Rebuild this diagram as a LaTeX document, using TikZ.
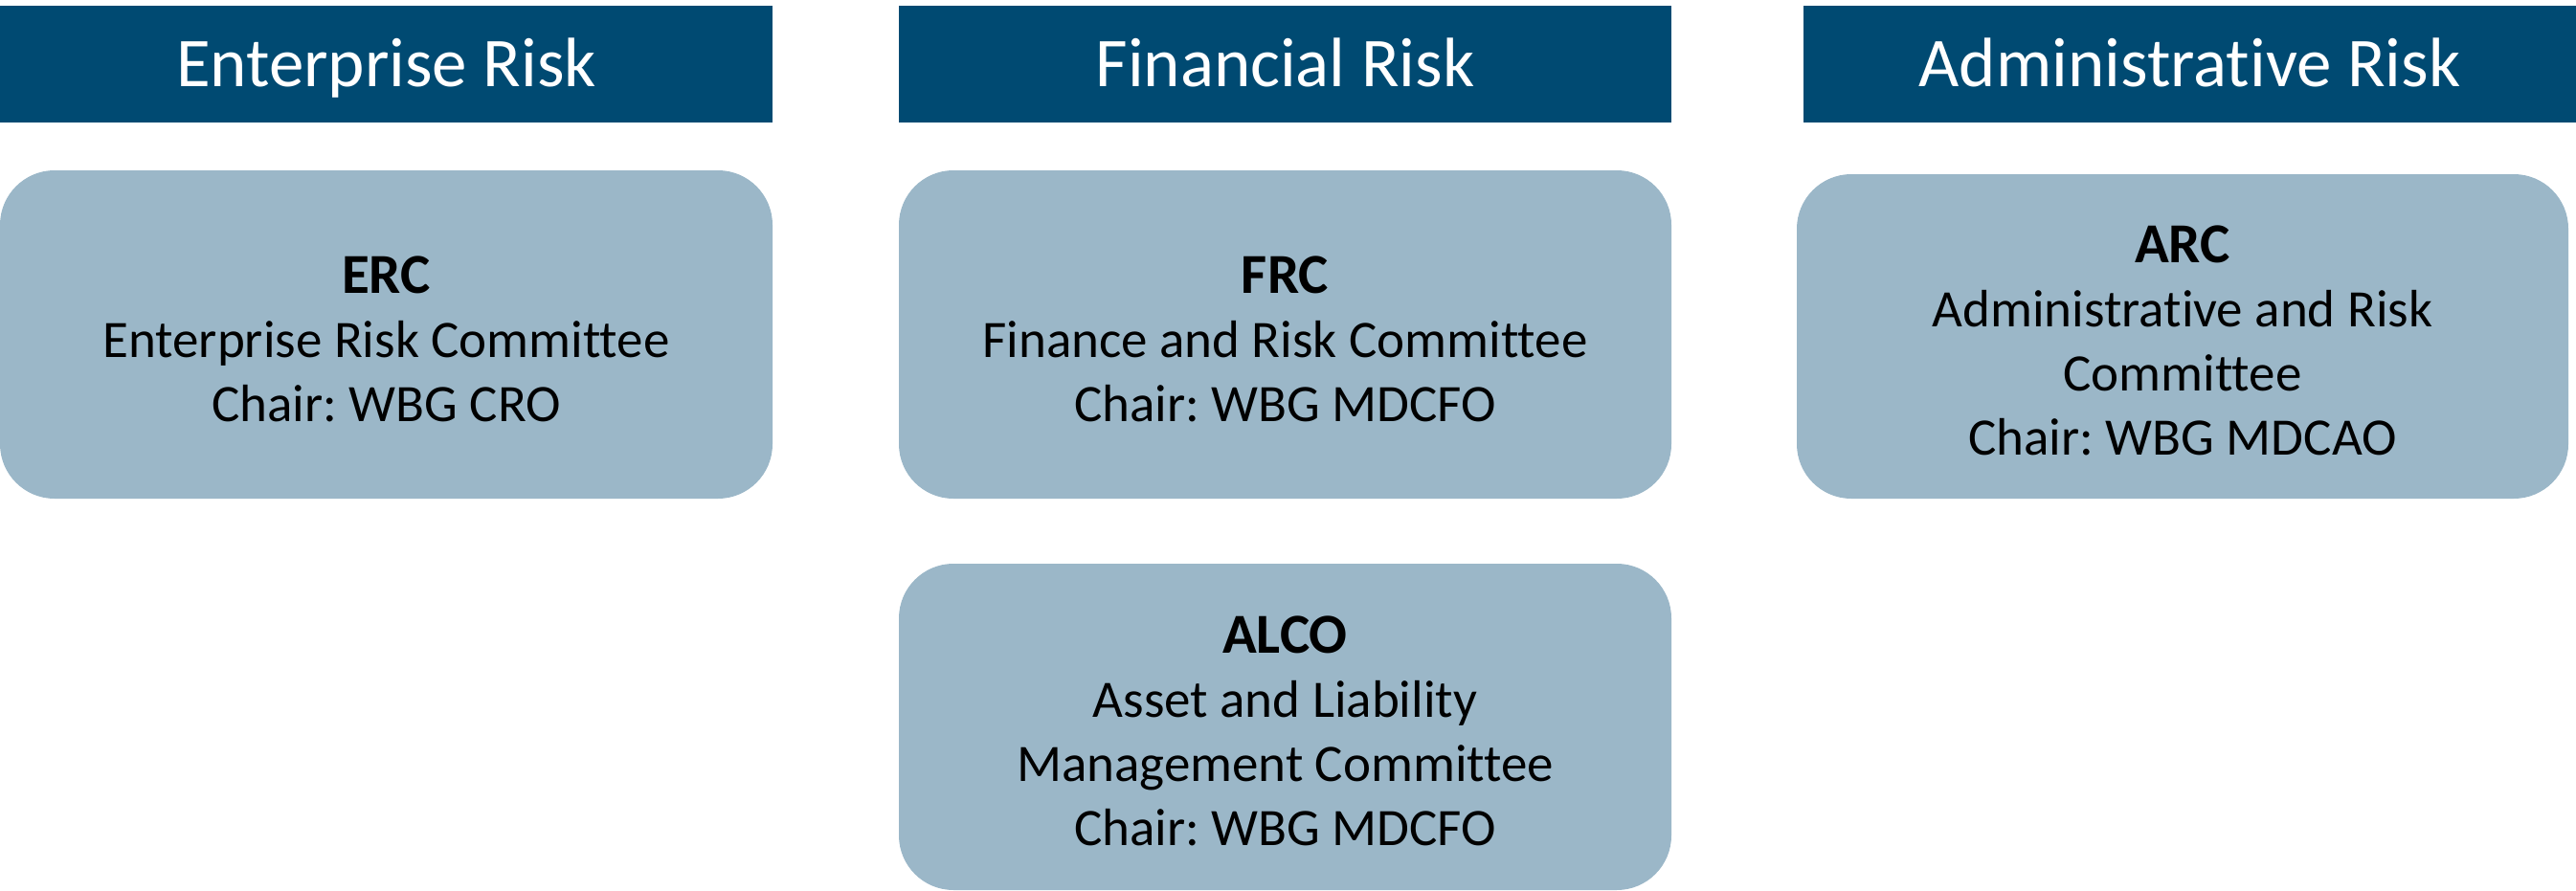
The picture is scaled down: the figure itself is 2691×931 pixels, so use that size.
\documentclass[tikz,border=0pt]{standalone}
\usepackage{fontspec}
\setmainfont{Carlito}[Ligatures=NoCommon]
\definecolor{headblue}{RGB}{0,74,114}
\definecolor{boxblue}{RGB}{155,183,200}
\newcommand{\cname}[1]{{\bfseries\fontsize{59}{67}\selectfont\rule{0pt}{48pt}#1}}

\begin{document}
\frenchspacing
\begin{tikzpicture}[x=1pt,y=-1pt]

      \useasboundingbox (0,0) rectangle (2691,931);

      \begin{scope}[every node/.style={fill=headblue,text=white,inner sep=0pt,
          minimum width=807pt,minimum height=122pt,text height=47pt,text depth=0pt,
          font=\fontsize{73}{88}\selectfont}]
        \node (ent) at (403.5,67)  {Enterprise Risk};
        \node (fin) at (1342.5,67) {Financial Risk};
        \node (adm) at (2287.5,67) {Administrative Risk};
      \end{scope}

      \begin{scope}[every node/.style={fill=boxblue,rounded corners=57pt,
          inner sep=0pt,align=center,minimum width=807pt,
          font=\fontsize{55}{67}\selectfont}]
        \node[minimum height=343pt] (erc)  at (403.5,349.5)  {\cname{ERC}\\Enterprise Risk Committee\\Chair: WBG CRO};
        \node[minimum height=343pt] (frc)  at (1342.5,349.5) {\cname{FRC}\\Finance and Risk Committee\\Chair: WBG MDCFO};
        \node[minimum height=339pt,minimum width=806pt] (arc) at (2280,351.5) {\cname{ARC}\\Administrative and Risk\\Committee\\Chair: WBG MDCAO};
        \node[minimum height=341pt] (alco) at (1342.5,759.5) {\cname{ALCO}\\Asset and Liability\\Management Committee\\Chair: WBG MDCFO};
      \end{scope}

    \end{tikzpicture}
\end{document}
